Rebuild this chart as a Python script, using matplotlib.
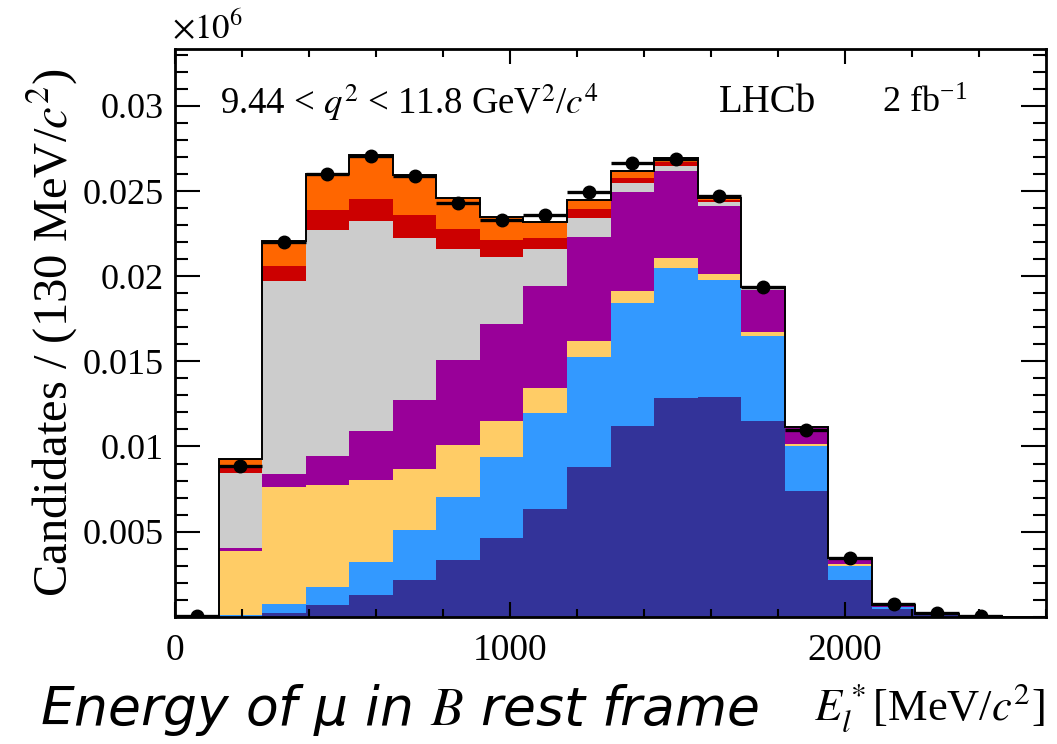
import matplotlib
matplotlib.use("Agg")
import matplotlib.pyplot as plt
from matplotlib.ticker import FixedLocator, MultipleLocator
import numpy as np

plt.rcParams['font.family'] = ['Liberation Serif', 'DejaVu Serif']
plt.rcParams['mathtext.fontset'] = 'stix'

# - DATA - (bins of 130 MeV from 0 to 2600)
bin_edges = np.arange(0, 2601, 130)

# stacked components, bottom to top
comp_dark = [0, 0, 0.0002, 0.00067, 0.0013, 0.00218, 0.00331, 0.00464, 0.00634, 0.00878,
             0.01119, 0.01283, 0.01293, 0.01152, 0.00738, 0.00218, 0.00044, 0.00008, 0.00002, 0]
comp_lblue = [0, 0.0001, 0.00053, 0.00108, 0.00191, 0.00289, 0.00375, 0.00477, 0.00561, 0.00645,
              0.00726, 0.00768, 0.00685, 0.00494, 0.00263, 0.00078, 0.00012, 0.00004, 0.00001, 0]
comp_yellow = [0, 0.00379, 0.00688, 0.006, 0.00485, 0.00362, 0.00305, 0.00207, 0.00146, 0.00094,
               0.00069, 0.00055, 0.00034, 0.00028, 0.00014, 0.00012, 0.00004, 0.00001, 0, 0]
comp_purple = [0, 0.00015, 0.00079, 0.00168, 0.00287, 0.00404, 0.00497, 0.00574, 0.00602, 0.00614,
               0.0058, 0.00511, 0.004, 0.00246, 0.00095, 0.00023, 0.00005, 0.00002, 0.00001, 0]
comp_gray = [0, 0.0044, 0.01133, 0.01327, 0.01231, 0.00953, 0.0065, 0.00391, 0.00215, 0.00108,
             0.00055, 0.0003, 0.00024, 0.00008, 0.00002, 0.00009, 0.00003, 0.00002, 0.00001, 0]
comp_red = [0, 0.00035, 0.00087, 0.00117, 0.00131, 0.00132, 0.00118, 0.00098, 0.00068, 0.00054,
            0.00029, 0.00023, 0.0001, 0.00005, 0.00001, 0.00004, 0.00002, 0.00001, 0, 0]
comp_orange = [0, 0.00045, 0.00147, 0.00215, 0.00254, 0.00236, 0.00185, 0.00137, 0.00094, 0.00057,
               0.00039, 0.00025, 0.00015, 0.00004, 0.00001, 0.00003, 0.00002, 0.00001, 0.00001, 0]

data_vals = [0.00005, 0.00887, 0.02203, 0.02601, 0.02706, 0.02586, 0.02428, 0.0233, 0.02358, 0.02494,
             0.02666, 0.02686, 0.02469, 0.01939, 0.01098, 0.00346, 0.00073, 0.00021, 0.00005]

ytick_vals = [0.005, 0.01, 0.015, 0.02, 0.025, 0.03]
ytick_labels = ["0.005", "0.01", "0.015", "0.02", "0.025", "0.03"]
xtick_vals = [0, 1000, 2000]
xtick_labels = ["0", "1000", "2000"]
# - DATA -

components = [comp_dark, comp_lblue, comp_yellow, comp_purple, comp_gray, comp_red, comp_orange]
colors = ['#333399', '#3399ff', '#ffcc66', '#990099', '#cccccc', '#cc0000', '#ff6600']

fig = plt.figure(figsize=(10.57, 7.44), dpi=100)
ax = fig.add_axes([175/1057, (744-616.8)/744, 871/1057, (616.8-49)/744])

width = np.diff(bin_edges)
left = bin_edges[:-1]
bottom = np.zeros(len(left))
for vals, col in zip(components, colors):
    vals = np.array(vals)
    ax.bar(left, vals, width=width, bottom=bottom, align='edge', color=col, linewidth=0)
    bottom = bottom + vals

# total outline
ax.stairs(bottom, bin_edges, color='black', linewidth=1.4, baseline=0)

# data points
centers = left[:len(data_vals)] + width[:len(data_vals)]/2
ax.errorbar(centers, data_vals, xerr=65, fmt='o', color='black', markersize=9,
            elinewidth=2.4, capsize=0, zorder=5)

ax.set_xlim(0, 2600)
ax.set_ylim(0, 0.03334)

ax.xaxis.set_major_locator(FixedLocator(xtick_vals))
ax.set_xticklabels(xtick_labels)
ax.xaxis.set_minor_locator(MultipleLocator(200))
ax.yaxis.set_major_locator(FixedLocator(ytick_vals))
ax.set_yticklabels(ytick_labels)
ax.yaxis.set_minor_locator(MultipleLocator(0.001))

ax.tick_params(which='both', direction='in', top=True, right=True, width=1.5)
ax.xaxis.set_tick_params(which='major', length=11, labelsize=27, pad=12)
ax.xaxis.set_tick_params(which='minor', length=5.5)
ax.yaxis.set_tick_params(which='major', length=18, labelsize=26, pad=8)
ax.yaxis.set_tick_params(which='minor', length=9.5)
for sp in ax.spines.values():
    sp.set_linewidth(2)

ax.set_ylabel("Candidates / (130 MeV/$c^2$)", fontsize=35, labelpad=2)

ax.text(0.052, 0.905, "9.44 < $q^2$ < 11.8 GeV$^2$/$c^4$", transform=ax.transAxes,
        fontsize=26.5, va='center', ha='left')
ax.text(0.624, 0.905, "LHCb", transform=ax.transAxes, fontsize=28, va='center', ha='left')
ax.text(0.812, 0.905, "2 fb$^{\\mathregular{-1}}$", transform=ax.transAxes, fontsize=26,
        va='center', ha='left')

fig.text(172/1057, 1 - 30/744, "$\\times10^6$", fontsize=25, va='center', ha='left')

fig.text(40/1057, 1 - 710/744, "Energy of μ in $B$ rest frame", fontsize=38.5,
         family=['DejaVu Sans'], style='italic', va='center', ha='left')
fig.text(1045/1057, 1 - 708/744, "$E_l^*$[MeV/$c^2$]", fontsize=32, va='center', ha='right')

fig.savefig("out.png", dpi=100)
